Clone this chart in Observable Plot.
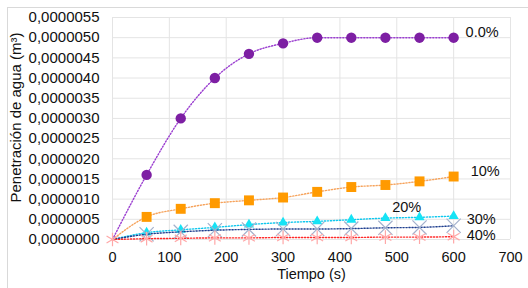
<!DOCTYPE html>
<html><head><meta charset="utf-8">
<script src="https://cdn.jsdelivr.net/npm/d3@7"></script>
<script src="https://cdn.jsdelivr.net/npm/@observablehq/plot@0.6"></script>
<style>
html,body{margin:0;padding:0;background:#fff;}
#chart{position:relative;width:528px;height:288px;overflow:hidden;}
#frame{position:absolute;left:7px;top:7px;width:600px;height:400px;border:1px solid #d9d9d9;box-sizing:border-box;}
#plot{position:absolute;left:0;top:0;}
</style></head><body>
<div id="chart"><div id="frame"></div><div id="plot"></div></div>
<script>
// Data (values in m³)
const times = [0, 60, 120, 180, 240, 300, 360, 420, 480, 540, 600];
const pct0  = [0, 1.6e-6, 3.0e-6, 4.0e-6, 4.6e-6, 4.86e-6, 5.0e-6, 5.0e-6, 5.0e-6, 5.0e-6, 5.0e-6];
const pct10 = [0, 0.56e-6, 0.76e-6, 0.90e-6, 0.97e-6, 1.04e-6, 1.18e-6, 1.30e-6, 1.35e-6, 1.44e-6, 1.56e-6];
const pct20 = [0, 0.17e-6, 0.24e-6, 0.30e-6, 0.37e-6, 0.42e-6, 0.45e-6, 0.49e-6, 0.53e-6, 0.55e-6, 0.58e-6];
const pct30 = [0, 0.13e-6, 0.19e-6, 0.23e-6, 0.25e-6, 0.26e-6, 0.26e-6, 0.27e-6, 0.29e-6, 0.30e-6, 0.34e-6];
const pct40 = [0, 0.02e-6, 0.03e-6, 0.04e-6, 0.04e-6, 0.05e-6, 0.05e-6, 0.05e-6, 0.06e-6, 0.06e-6, 0.07e-6];
const xTicks = [0, 100, 200, 300, 400, 500, 600, 700];
const yTicks = [0, 0.5e-6, 1.0e-6, 1.5e-6, 2.0e-6, 2.5e-6, 3.0e-6, 3.5e-6, 4.0e-6, 4.5e-6, 5.0e-6, 5.5e-6];
const labelText = ["0.0%", "10%", "20%", "30%", "40%"];
const labelT = [621, 630, 492, 623, 623];
const labelV = [5.12e-6, 1.69e-6, 0.80e-6, 0.495e-6, 0.10e-6];

const rows = vals => times.map((t, i) => ({t, v: vals[i]}));
const font = '"Liberation Sans", Arial, sans-serif';

function series(vals, lineColor, marker, markerOpts, includeZero) {
  const data = rows(vals);
  const mdata = includeZero ? data : data.filter(d => d.t > 0);
  return [
    Plot.line(data, {x: "t", y: "v", stroke: lineColor, strokeWidth: 1.4, strokeDasharray: "1.2,1.8", curve: "monotone-x"}),
    Plot.dot(mdata, {x: "t", y: "v", symbol: marker, ...markerOpts})
  ];
}

const labels = labelText.map((s, i) => ({s, t: labelT[i], v: labelV[i]}));

const chart = Plot.plot({
  width: 528, height: 288,
  marginLeft: 112, marginRight: 18, marginTop: 17, marginBottom: 49,
  style: {fontFamily: font, fontSize: "14.5px", color: "#111", background: "transparent"},
  x: {domain: [0, 700]},
  y: {domain: [0, 5.5e-6]},
  marks: [
    Plot.gridX(xTicks, {stroke: "#e4e4e4", strokeOpacity: 1}),
    Plot.gridY(yTicks, {stroke: "#e4e4e4", strokeOpacity: 1}),
    Plot.axisX({ticks: xTicks, tickSize: 0, tickPadding: 12, label: null, fontSize: 14.5}),
    Plot.axisY({ticks: yTicks, tickSize: 0, tickPadding: 13, label: null, fontSize: 15,
      tickFormat: d => d3.format(".7f")(d).replace(".", ",")}),
    ...series(pct0, "#9b3fd0", "circle", {r: 5.2, fill: "#7d1fa3"}, false),
    ...series(pct10, "#f6a35c", "square", {r: 5.6, fill: "#ff9a00"}, false),
    ...series(pct20, "#10c8ee", "triangle", {r: 3.8, fill: "#16e3f5"}, false),
    ...series(pct30, "#1f3f8f", "times", {r: 6.5, stroke: "#a3b1cc", strokeWidth: 1.2}, false),
    ...series(pct40, "#ff2a2a", "asterisk", {r: 6.5, stroke: "#ffa8a8", strokeWidth: 1.2}, true),
    Plot.text(labels, {x: "t", y: "v", text: "s", textAnchor: "start", fontSize: 14.5, fill: "#111"}),
    Plot.text(["Penetración de agua (m³)"], {frameAnchor: "left", textAnchor: "middle", lineAnchor: "middle", dx: -96, dy: -11, rotate: -90, fontSize: 15, fill: "#111"}),
    Plot.text(["Tiempo (s)"], {frameAnchor: "bottom", textAnchor: "middle", lineAnchor: "middle", dy: 35, fontSize: 14.5, fill: "#111"})
  ]
});
document.getElementById("plot").appendChild(chart);
</script>
</body></html>
